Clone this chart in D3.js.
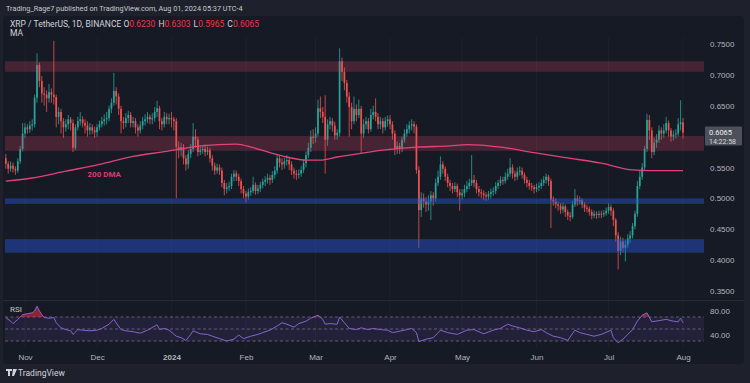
<!DOCTYPE html>
<html>
<head>
<meta charset="utf-8">
<script src="https://cdn.jsdelivr.net/npm/d3@7"></script>
<style>
  html, body { margin: 0; padding: 0; background: #1e212b; }
  svg { display: block; font-family: Roboto, "Noto Sans", sans-serif; }
</style>
</head>
<body>
<svg id="chart" width="750" height="383"></svg>
<script>
// ---- data (XRP/USDT daily, Oct 24 2023 .. Aug 1 2024) ----
const startDate = "2023-10-24";
const firstOpen = 0.565;

const closes = [
  // Oct
  .556,.548,.553,.548,.545,.560,.580,.605,
  // Nov
  .615,.612,.618,.620,.663,.716,.690,.670,.668,.662, .672,.668,.664,.632,.640,.625,.615,.620,.628,.622,
  .582,.615,.625,.628,.622,.618,.610,.615,.610,.607,
  // Dec
  .615,.620,.625,.628,.630,.645,.655,.674,.665,.645, .625,.622,.630,.635,.622,.625,.615,.610,.618,.625,
  .628,.632,.628,.630,.640,.646,.625,.620,.632,.628, .630,
  // Jan
  .628,.625,.583,.578,.583,.565,.555,.572,.580,.600, .595,.575,.578,.580,.575,.578,.565,.553,.545,.550,
  .545,.525,.515,.518,.520,.535,.540,.535,.528,.515, .508,
  // Feb
  .503,.510,.512,.522,.512,.516,.522,.527,.530,.533, .530,.538,.545,.565,.558,.555,.560,.562,.555,.545,
  .540,.538,.540,.546,.557,.570,.582,.600,.598,
  // Mar
  .605,.646,.640,.632,.595,.620,.625,.618,.602,.606, .722,.705,.687,.665,.648,.625,.645,.635,.645,.605,
  .620,.625,.612,.635,.640,.632,.620,.625,.615,.625, .628,
  // Apr
  .620,.605,.580,.585,.580,.595,.605,.612,.618,.620, .616,.546,.481,.500,.495,.490,.495,.505,.500,.525,
  .535,.555,.548,.535,.525,.520,.515,.520,.510,.505,
  // May
  .508,.515,.520,.525,.530,.525,.515,.510,.508,.505, .503,.507,.510,.512,.520,.525,.530,.528,.535,.540,
  .550,.540,.535,.543,.545,.538,.530,.525,.520,.518, .515,
  // Jun
  .518,.520,.525,.530,.535,.528,.498,.495,.490,.488, .482,.487,.478,.472,.470,.490,.500,.495,.497,.490,
  .485,.483,.478,.472,.475,.473,.475,.474,.476,.480,
  // Jul
  .486,.480,.465,.440,.415,.430,.420,.425,.435,.440, .455,.475,.520,.535,.550,.580,.627,.610,.575,.590,
  .595,.610,.605,.610,.622,.610,.600,.603,.605,.620, .623,
  // Aug
  .6065
];

const highs = [
  .572,.560,.560,.558,.552,.565,.585,.622,
  .622,.620,.625,.628,.668,.735,.720,.698,.680,.675, .685,.678,.755,.668,.648,.645,.630,.628,.635,.632,
  .628,.620,.632,.640,.633,.628,.625,.622,.620,.616,
  .620,.626,.632,.636,.640,.650,.662,.703,.680,.670, .650,.632,.638,.642,.640,.632,.630,.620,.625,.632,
  .636,.640,.636,.638,.648,.658,.650,.630,.640,.638, .637,
  .640,.632,.630,.592,.590,.588,.570,.578,.588,.622, .612,.600,.585,.586,.588,.584,.582,.570,.558,.556,
  .555,.550,.530,.525,.527,.540,.546,.545,.540,.532, .520,
  .512,.516,.518,.535,.526,.522,.527,.532,.536,.540, .538,.544,.552,.572,.570,.565,.566,.570,.566,.560,
  .550,.546,.547,.552,.563,.576,.590,.610,.612,
  .615,.660,.665,.648,.667,.628,.632,.630,.624,.612, .743,.728,.712,.692,.672,.655,.665,.652,.660,.650,
  .628,.632,.630,.645,.650,.662,.638,.632,.630,.632, .634,
  .635,.625,.610,.592,.590,.600,.612,.620,.625,.628, .625,.620,.552,.510,.508,.502,.505,.512,.510,.532,
  .545,.568,.560,.552,.540,.530,.525,.526,.524,.515,
  .515,.522,.528,.532,.570,.538,.530,.520,.515,.513, .510,.512,.516,.518,.526,.530,.536,.535,.542,.548,
  .565,.555,.545,.550,.552,.550,.542,.535,.530,.525, .522,
  .524,.526,.531,.536,.540,.538,.532,.503,.500,.495, .492,.493,.490,.482,.478,.496,.515,.505,.503,.500,
  .494,.490,.487,.482,.480,.479,.480,.480,.481,.485,
  .492,.490,.484,.468,.445,.438,.436,.432,.442,.447, .460,.480,.528,.545,.557,.585,.637,.635,.615,.598,
  .604,.618,.615,.620,.632,.626,.614,.610,.612,.630, .659,
  .6303
];

const lows = [
  .548,.540,.543,.542,.538,.541,.556,.576,
  .598,.605,.606,.610,.615,.655,.680,.655,.650,.640, .655,.655,.652,.615,.620,.605,.598,.608,.612,.610,
  .575,.578,.610,.618,.615,.605,.600,.603,.604,.598,
  .600,.610,.615,.618,.620,.625,.638,.650,.652,.635, .605,.612,.615,.622,.615,.615,.605,.600,.605,.612,
  .618,.622,.620,.620,.624,.632,.612,.610,.615,.620, .620,
  .615,.610,.500,.565,.568,.555,.545,.548,.565,.575, .582,.568,.570,.572,.568,.570,.558,.545,.538,.540,
  .538,.518,.505,.508,.512,.515,.528,.528,.520,.508, .500,
  .493,.498,.504,.508,.506,.507,.510,.516,.520,.524, .522,.525,.532,.540,.550,.546,.548,.553,.546,.538,
  .532,.530,.532,.535,.541,.550,.565,.575,.588,
  .590,.600,.630,.622,.540,.585,.612,.608,.595,.595, .600,.690,.675,.655,.600,.612,.620,.625,.630,.573,
  .598,.612,.605,.608,.628,.625,.612,.612,.605,.610, .616,
  .612,.595,.570,.572,.572,.575,.590,.600,.605,.610, .605,.540,.420,.470,.485,.478,.480,.465,.488,.495,
  .520,.530,.540,.528,.518,.512,.508,.510,.502,.480,
  .498,.502,.510,.515,.520,.518,.508,.503,.500,.497, .496,.498,.500,.504,.507,.515,.520,.522,.524,.530,
  .535,.532,.528,.530,.537,.532,.524,.518,.514,.512, .508,
  .510,.512,.515,.520,.524,.520,.452,.488,.484,.480, .475,.476,.470,.465,.463,.467,.486,.488,.490,.484,
  .478,.477,.472,.466,.468,.467,.468,.468,.470,.472,
  .475,.472,.455,.430,.385,.408,.412,.398,.420,.428, .435,.450,.470,.515,.530,.545,.575,.595,.565,.570,
  .582,.590,.595,.598,.605,.600,.592,.594,.597,.600, .610,
  .5965
];

// 200-day moving average, sampled from the drawn line
const dmaDates = ["2023-10-24","2023-11-04","2023-11-18","2023-12-02","2023-12-16","2023-12-30",
  "2024-01-13","2024-01-28","2024-02-04","2024-02-11","2024-02-18","2024-02-26","2024-03-03",
  "2024-03-10","2024-03-15","2024-03-29","2024-04-12","2024-04-26","2024-05-03","2024-05-17",
  "2024-05-31","2024-06-13","2024-06-28","2024-07-11","2024-07-18","2024-08-01"];
const dmaValues = [.528,.533,.544,.555,.568,.576,
  .585,.588,.582,.574,.567,.562,.562,
  .567,.570,.578,.583,.585,.587,.583,
  .574,.566,.557,.546,.545,.545];

// RSI(14) line, sampled from the lower pane
const rsiDates = ["2023-10-24","2023-10-26","2023-10-27","2023-10-29","2023-10-31","2023-11-02","2023-11-04",
  "2023-11-05","2023-11-06","2023-11-07","2023-11-08","2023-11-09","2023-11-11","2023-11-13","2023-11-14",
  "2023-11-16","2023-11-18","2023-11-20","2023-11-21","2023-11-23","2023-11-25","2023-11-28","2023-12-01",
  "2023-12-03","2023-12-06","2023-12-08","2023-12-09","2023-12-11","2023-12-13","2023-12-16","2023-12-19",
  "2023-12-22","2023-12-26","2023-12-27","2023-12-29","2023-12-31","2024-01-03","2024-01-05","2024-01-07",
  "2024-01-09","2024-01-10","2024-01-13","2024-01-16","2024-01-18","2024-01-21","2024-01-24","2024-01-27",
  "2024-01-29","2024-01-31","2024-02-03","2024-02-06","2024-02-08","2024-02-11","2024-02-14","2024-02-16",
  "2024-02-18","2024-02-21","2024-02-23","2024-02-26","2024-02-28","2024-03-02","2024-03-04","2024-03-05",
  "2024-03-07","2024-03-10","2024-03-11","2024-03-13","2024-03-15","2024-03-18","2024-03-20","2024-03-23",
  "2024-03-25","2024-03-28","2024-03-31","2024-04-02","2024-04-04","2024-04-08","2024-04-10","2024-04-12",
  "2024-04-13","2024-04-16","2024-04-19","2024-04-22","2024-04-25","2024-04-29","2024-05-03","2024-05-06",
  "2024-05-10","2024-05-14","2024-05-17","2024-05-20","2024-05-22","2024-05-25","2024-05-28","2024-05-31",
  "2024-06-03","2024-06-05","2024-06-08","2024-06-11","2024-06-14","2024-06-17","2024-06-19","2024-06-22",
  "2024-06-25","2024-06-28","2024-07-02","2024-07-03","2024-07-05","2024-07-07","2024-07-09","2024-07-11",
  "2024-07-13","2024-07-15","2024-07-17","2024-07-19","2024-07-22","2024-07-25","2024-07-28","2024-07-30",
  "2024-07-31","2024-08-01"];
const rsiValues = [69,63,59,66,74,75.5,77,
  80,88,80,74,69,68,69,60.5,
  52,49,47,41,49,48,47,48,
  51,58,66,60,49,47,45.5,43,
  48,57,49,51,48,38,35.5,31,
  41,47,42,41,38,34,30,33,
  40,34,38,41,44,48,55,60.5,
  58,53,59,63,68,73,66,58,
  59,58,70,60.5,51,49,52,49,
  51,49,48,44,45.5,49,51,44,
  29,33,35.5,48,44,41,48,49,
  42,48,51,58,55,52,48,45.5,
  49,44,38,35.5,31,48,44,41,
  38,41,48,35.5,27,33,41,49,
  63,73,77,62,64,66,63,62,
  68,60.5];

const redZones = [[0.705, 0.722], [0.577, 0.601]];
const blueZones = [[0.491, 0.500], [0.412, 0.434]];

// 0.6000 is hidden behind the last-price tag in the reference
const priceTicks = [0.35, 0.40, 0.45, 0.50, 0.55, 0.65, 0.70, 0.75];
const rsiTicks = [40, 80];
const rsiLevels = [30, 50, 70];
const monthDates = ["2023-11-01","2023-12-01","2024-01-01","2024-02-01","2024-03-01",
  "2024-04-01","2024-05-01","2024-06-01","2024-07-01","2024-08-01"];
const monthLabels = ["Nov","Dec","2024","Feb","Mar","Apr","May","Jun","Jul","Aug"];

const headerText = "Trading_Rage7 published on TradingView.com, Aug 01, 2024 05:37 UTC-4";
const symbolText = "XRP / TetherUS, 1D, BINANCE";
const ohlcLabels = ["O", "H", "L", "C"];
const ohlcValues = ["0.6230", "0.6303", "0.5965", "0.6065"];
const lastPrice = 0.6065;
const countdown = "14:22:58";

// ---- drawing ----
const svg = d3.select("#chart");
const parse = d3.utcParse("%Y-%m-%d");
const plotL = 5, plotR = 704, mainTop = 37, mainBot = 300, rsiBot = 348;

const x = d3.scaleUtc().domain([parse("2023-11-01"), parse("2024-08-01")]).range([25, 683]);
const y = d3.scaleLinear().domain([0.35, 0.75]).range([291, 44]);
const yR = d3.scaleLinear().domain([40, 80]).range([335, 311]);

const up = "#26a69a", down = "#ef5350";
const axisColor = "#b2b5be";

// panel
svg.append("rect").attr("x", 3).attr("y", 16).attr("width", 741).attr("height", 348)
  .attr("rx", 4).attr("fill", "#161a25");

// vertical grid
svg.append("g").selectAll("line").data(monthDates).join("line")
  .attr("x1", d => x(parse(d))).attr("x2", d => x(parse(d)))
  .attr("y1", mainTop).attr("y2", rsiBot)
  .attr("stroke", "#1d212d").attr("stroke-width", 1);

// pane separator
svg.append("line").attr("x1", 3).attr("x2", 744).attr("y1", mainBot + 0.5).attr("y2", mainBot + 0.5)
  .attr("stroke", "#272b37");

svg.append("defs").append("clipPath").attr("id", "mainClip")
  .append("rect").attr("x", plotL).attr("y", mainTop).attr("width", plotR - plotL).attr("height", mainBot - mainTop);

const main = svg.append("g").attr("clip-path", "url(#mainClip)");

const start = parse(startDate);
const candles = closes.map((c, i) => ({
  date: d3.utcDay.offset(start, i),
  o: i === 0 ? firstOpen : closes[i - 1],
  h: highs[i], l: lows[i], c: c
}));

const cg = main.append("g");
cg.selectAll("line").data(candles).join("line")
  .attr("x1", d => x(d.date)).attr("x2", d => x(d.date))
  .attr("y1", d => y(d.h)).attr("y2", d => y(d.l))
  .attr("stroke", d => d.c >= d.o ? up : down).attr("stroke-width", 0.8);
cg.selectAll("rect").data(candles).join("rect")
  .attr("x", d => x(d.date) - 0.85).attr("width", 1.7)
  .attr("y", d => y(Math.max(d.o, d.c)))
  .attr("height", d => Math.max(0.8, Math.abs(y(d.o) - y(d.c))))
  .attr("fill", d => d.c >= d.o ? up : down);

// 200 DMA
const dma = dmaDates.map((d, i) => ({ date: parse(d), v: dmaValues[i] }));
main.append("path").datum(dma)
  .attr("d", d3.line().x(d => x(d.date)).y(d => y(d.v)).curve(d3.curveMonotoneX))
  .attr("fill", "none").attr("stroke", "#e3417b").attr("stroke-width", 1.3);

main.append("text").attr("x", x(parse("2023-12-04"))).attr("y", y(0.538))
  .attr("text-anchor", "middle").attr("dominant-baseline", "middle")
  .attr("font-size", 8).attr("font-weight", 700).attr("fill", "#d63c74").text("200 DMA");

// zones
main.append("g").selectAll("rect").data(redZones).join("rect")
  .attr("x", plotL).attr("width", plotR - plotL)
  .attr("y", d => y(d[1])).attr("height", d => y(d[0]) - y(d[1]))
  .attr("fill", "rgba(232,70,100,0.24)");
main.append("g").selectAll("rect").data(blueZones).join("rect")
  .attr("x", plotL).attr("width", plotR - plotL)
  .attr("y", d => y(d[1])).attr("height", d => y(d[0]) - y(d[1]))
  .attr("fill", "rgba(41,90,230,0.42)");

// price axis
const yAxis = svg.append("g").attr("transform", "translate(710,0)")
  .call(d3.axisRight(y).tickValues(priceTicks).tickFormat(d3.format(".4f")).tickSize(0).tickPadding(0));
yAxis.select(".domain").remove();
yAxis.selectAll("text").attr("fill", axisColor).attr("font-size", 8).attr("font-family", null);

// last price label
const lp = svg.append("g");
lp.append("rect").attr("x", 705).attr("y", y(lastPrice) - 6).attr("width", 37).attr("height", 19)
  .attr("rx", 1).attr("fill", "#4d505b");
lp.append("text").attr("x", 709).attr("y", y(lastPrice) + 2).attr("font-size", 7.5)
  .attr("fill", "#eceef2").text(d3.format(".4f")(lastPrice));
lp.append("text").attr("x", 709).attr("y", y(lastPrice) + 11).attr("font-size", 7)
  .attr("fill", "#d7d9de").text(countdown);

// RSI pane
svg.append("rect").attr("x", plotL).attr("width", plotR - plotL)
  .attr("y", yR(70)).attr("height", yR(30) - yR(70)).attr("fill", "rgba(126,87,194,0.13)");
svg.append("g").selectAll("line").data(rsiLevels).join("line")
  .attr("x1", plotL).attr("x2", plotR).attr("y1", d => yR(d)).attr("y2", d => yR(d))
  .attr("stroke", "#6d7080").attr("stroke-width", 0.8).attr("stroke-dasharray", "3,2.5");

const rsi = rsiDates.map((d, i) => ({ date: parse(d), v: rsiValues[i] }));
svg.append("defs").append("clipPath").attr("id", "obClip")
  .append("rect").attr("x", plotL).attr("y", mainBot).attr("width", plotR - plotL).attr("height", yR(70) - mainBot);
svg.append("path").datum(rsi).attr("clip-path", "url(#obClip)")
  .attr("d", d3.area().x(d => x(d.date)).y0(yR(70)).y1(d => yR(d.v)))
  .attr("fill", "rgba(242,54,69,0.5)");
svg.append("path").datum(rsi)
  .attr("d", d3.line().x(d => x(d.date)).y(d => yR(d.v)))
  .attr("fill", "none").attr("stroke", "#8566c8").attr("stroke-width", 1);

svg.append("text").attr("x", 10).attr("y", 312).attr("font-size", 8).attr("fill", "#c3c6ce").text("RSI");

const rAxis = svg.append("g").attr("transform", "translate(710,0)")
  .call(d3.axisRight(yR).tickValues(rsiTicks).tickFormat(d3.format(".2f")).tickSize(0).tickPadding(0));
rAxis.select(".domain").remove();
rAxis.selectAll("text").attr("fill", axisColor).attr("font-size", 8).attr("font-family", null);

// time axis
const xAxis = svg.append("g").attr("transform", "translate(0,351)")
  .call(d3.axisBottom(x).tickValues(monthDates.map(parse))
    .tickFormat((d, i) => monthLabels[i]).tickSize(0).tickPadding(3));
xAxis.select(".domain").remove();
xAxis.selectAll("text").attr("fill", axisColor).attr("font-size", 8).attr("font-family", null)
  .attr("font-weight", (d, i) => monthLabels[i] === "2024" ? 700 : 400);

// header and legend
svg.append("text").attr("x", 6).attr("y", 11).attr("font-size", 7.3).attr("fill", "#c8cad0").text(headerText);

const leg = svg.append("text").attr("x", 10).attr("y", 27).attr("font-size", 8.5).attr("fill", "#d1d4dc");
leg.append("tspan").text(symbolText + "  ");
ohlcLabels.forEach((lab, i) => {
  leg.append("tspan").attr("dx", i === 0 ? 0 : 3).attr("fill", "#d1d4dc").text(lab);
  leg.append("tspan").attr("fill", "#f23645").text(ohlcValues[i]);
});
svg.append("text").attr("x", 10).attr("y", 36).attr("font-size", 8.5).attr("fill", "#d1d4dc").text("MA");

// footer logo
const foot = svg.append("g").attr("transform", "translate(6,369)");
foot.append("path").attr("d", "M0,0h6v2h-2v5h-2v-5h-2z M7,0h4l-3,7h-2z").attr("fill", "#d1d4dc");
foot.append("circle").attr("cx", 8.2).attr("cy", 1.2).attr("r", 0.9).attr("fill", "#d1d4dc");
svg.append("text").attr("x", 18).attr("y", 376).attr("font-size", 8.5).attr("fill", "#d1d4dc").text("TradingView");
</script>
</body>
</html>
